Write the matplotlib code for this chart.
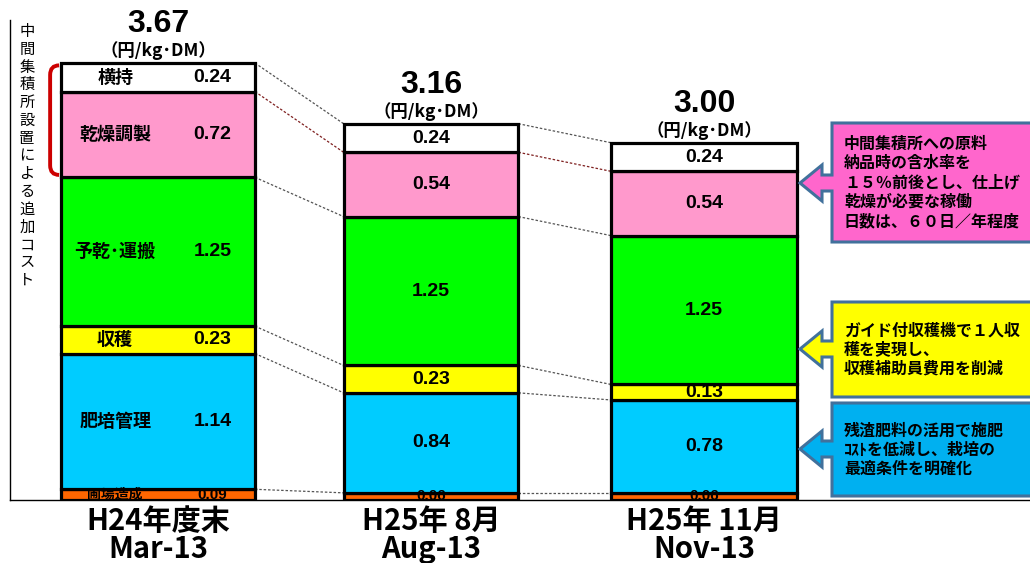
import matplotlib
matplotlib.use('Agg')
import matplotlib.pyplot as plt
from matplotlib.patches import Polygon, PathPatch
from matplotlib.path import Path
import numpy as np

plt.rcParams['font.family'] = ['Noto Sans CJK JP', 'DejaVu Sans']

# 各時点のコスト内訳（円/kg・DM）
periods = ['H24年度末\nMar-13', 'H25年 8月\nAug-13', 'H25年 11月\nNov-13']
categories = ['圃場造成', '肥培管理', '収穫', '予乾･運搬', '乾燥調製', '横持']
zosei = [0.09, 0.06, 0.06]
hibai = [1.14, 0.84, 0.78]
shukaku = [0.23, 0.23, 0.13]
yokan = [1.25, 1.25, 1.25]
kanso = [0.72, 0.54, 0.54]
yokomochi = [0.24, 0.24, 0.24]
totals = [3.67, 3.16, 3.00]
unit = '（円/kg･DM）'
ylabel = '中間集積所設置による追加コスト'

notes = [
    '中間集積所への原料\n納品時の含水率を\n１５％前後とし、仕上げ\n乾燥が必要な稼働\n日数は、６０日／年程度',
    'ガイド付収穫機で１人収\n穫を実現し、\n収穫補助員費用を削減',
    '残渣肥料の活用で施肥\nｺｽﾄを低減し、栽培の\n最適条件を明確化',
]

series = [zosei, hibai, shukaku, yokan, kanso, yokomochi]
colors = ['#FF6600', '#00CCFF', '#FFFF00', '#00FF00', '#FF99CC', '#FFFFFF']
widths = [0.71, 0.64, 0.68]

fig = plt.figure(figsize=(10.3, 5.63), dpi=100)
ax = fig.add_axes([10/1030, 63/563, 1020/1030, 480/563])

x = np.arange(len(periods))
bottom = np.zeros(len(periods))
bounds = [bottom.copy()]
for vals, c in zip(series, colors):
    ax.bar(x, vals, width=widths, bottom=bottom, color=c, edgecolor='black',
           linewidth=2.3, zorder=3)
    bottom = bottom + np.array(vals)
    bounds.append(bottom.copy())

# 値ラベル（細い区分は文字を小さく）
num_font = ['Liberation Sans']
for k, (vals, name) in enumerate(zip(series, categories)):
    for i in range(len(periods)):
        yc = bounds[k][i] + vals[i] / 2
        fs = 11 if vals[i] < 0.1 else 14
        if i == 0:
            ax.text(x[i] - 0.157, yc, name, ha='center', va='center',
                    fontsize=fs - 1, fontweight='bold', zorder=4)
            ax.text(x[i] + 0.2, yc, '%.2f' % vals[i], ha='center', va='center',
                    fontsize=fs, fontweight='bold', family=num_font, zorder=4)
        else:
            ax.text(x[i], yc, '%.2f' % vals[i], ha='center', va='center',
                    fontsize=fs, fontweight='bold', family=num_font, zorder=4)

# 合計と単位
for i in range(len(periods)):
    ax.annotate(unit, (x[i], totals[i]), xytext=(0, 3), textcoords='offset pixels',
                ha='center', va='bottom', fontsize=12.5, fontweight='bold')
    ax.annotate('%.2f' % totals[i], (x[i], totals[i]), xytext=(0, 24),
                textcoords='offset pixels', ha='center', va='bottom', fontsize=23,
                fontweight='bold', family=num_font)

# 棒の間の点線
for i in range(len(periods) - 1):
    x0 = x[i] + widths[i] / 2
    x1 = x[i + 1] - widths[i + 1] / 2
    for k in range(1, len(bounds)):
        col = '#7F1F1F' if k == 5 else '#555555'
        ax.plot([x0, x1], [bounds[k][i], bounds[k][i + 1]], color=col,
                linewidth=0.9, linestyle=(0, (2, 1.5)), zorder=2)

# 赤い括弧
yb = bounds[4][0] + 0.02
yt = bounds[6][0] - 0.02
xl, xr = -0.395, -0.362
r = 0.08
verts = [(xr, yt), (xl, yt), (xl, yt - r), (xl, yb + r), (xl, yb), (xr, yb)]
codes = [Path.MOVETO, Path.CURVE3, Path.CURVE3, Path.LINETO, Path.CURVE3, Path.CURVE3]
ax.add_patch(PathPatch(Path(verts, codes), facecolor='none', edgecolor='#CC0000',
                       linewidth=2.8, zorder=3))

ax.set_xlim(-0.542, 3.194)
ax.set_ylim(0, 4.031)
ax.set_yticks([])
ax.set_xticks(x)
ax.set_xticklabels(periods, fontsize=21, fontweight='bold', linespacing=0.92)
ax.tick_params(axis='x', length=0, pad=4)
ax.spines['top'].set_visible(False)
ax.spines['right'].set_visible(False)
ax.spines['left'].set_linewidth(1.0)
ax.spines['bottom'].set_linewidth(1.0)

# 吹き出し
ov = fig.add_axes([0, 0, 1, 1])
ov.set_xlim(0, 1030)
ov.set_ylim(563, 0)
ov.axis('off')
ov.patch.set_alpha(0)

ov.text(27, 156, '\n'.join(ylabel), ha='center', va='center', fontsize=11,
        linespacing=1.06)

boxes = [
    (123, 242, 183, '#FF66CC'),
    (302, 397, 349, '#FFFF00'),
    (403, 496, 449, '#00B0F0'),
]
for (top, bot, tip, fc), txt in zip(boxes, notes):
    bl, br = 832, 1045
    verts = [(bl, top), (br, top), (br, bot), (bl, bot), (bl, tip + 8),
             (822, tip + 8), (822, tip + 18), (800, tip), (822, tip - 18),
             (822, tip - 8), (bl, tip - 8)]
    ov.add_patch(Polygon(verts, closed=True, facecolor=fc, edgecolor='#41719C',
                         linewidth=2.2, zorder=5))
    ov.text(844, (top + bot) / 2, txt, ha='left', va='center', fontsize=11.5,
            fontweight='bold', linespacing=1.25, zorder=6)

fig.savefig('out.png', dpi=100)
